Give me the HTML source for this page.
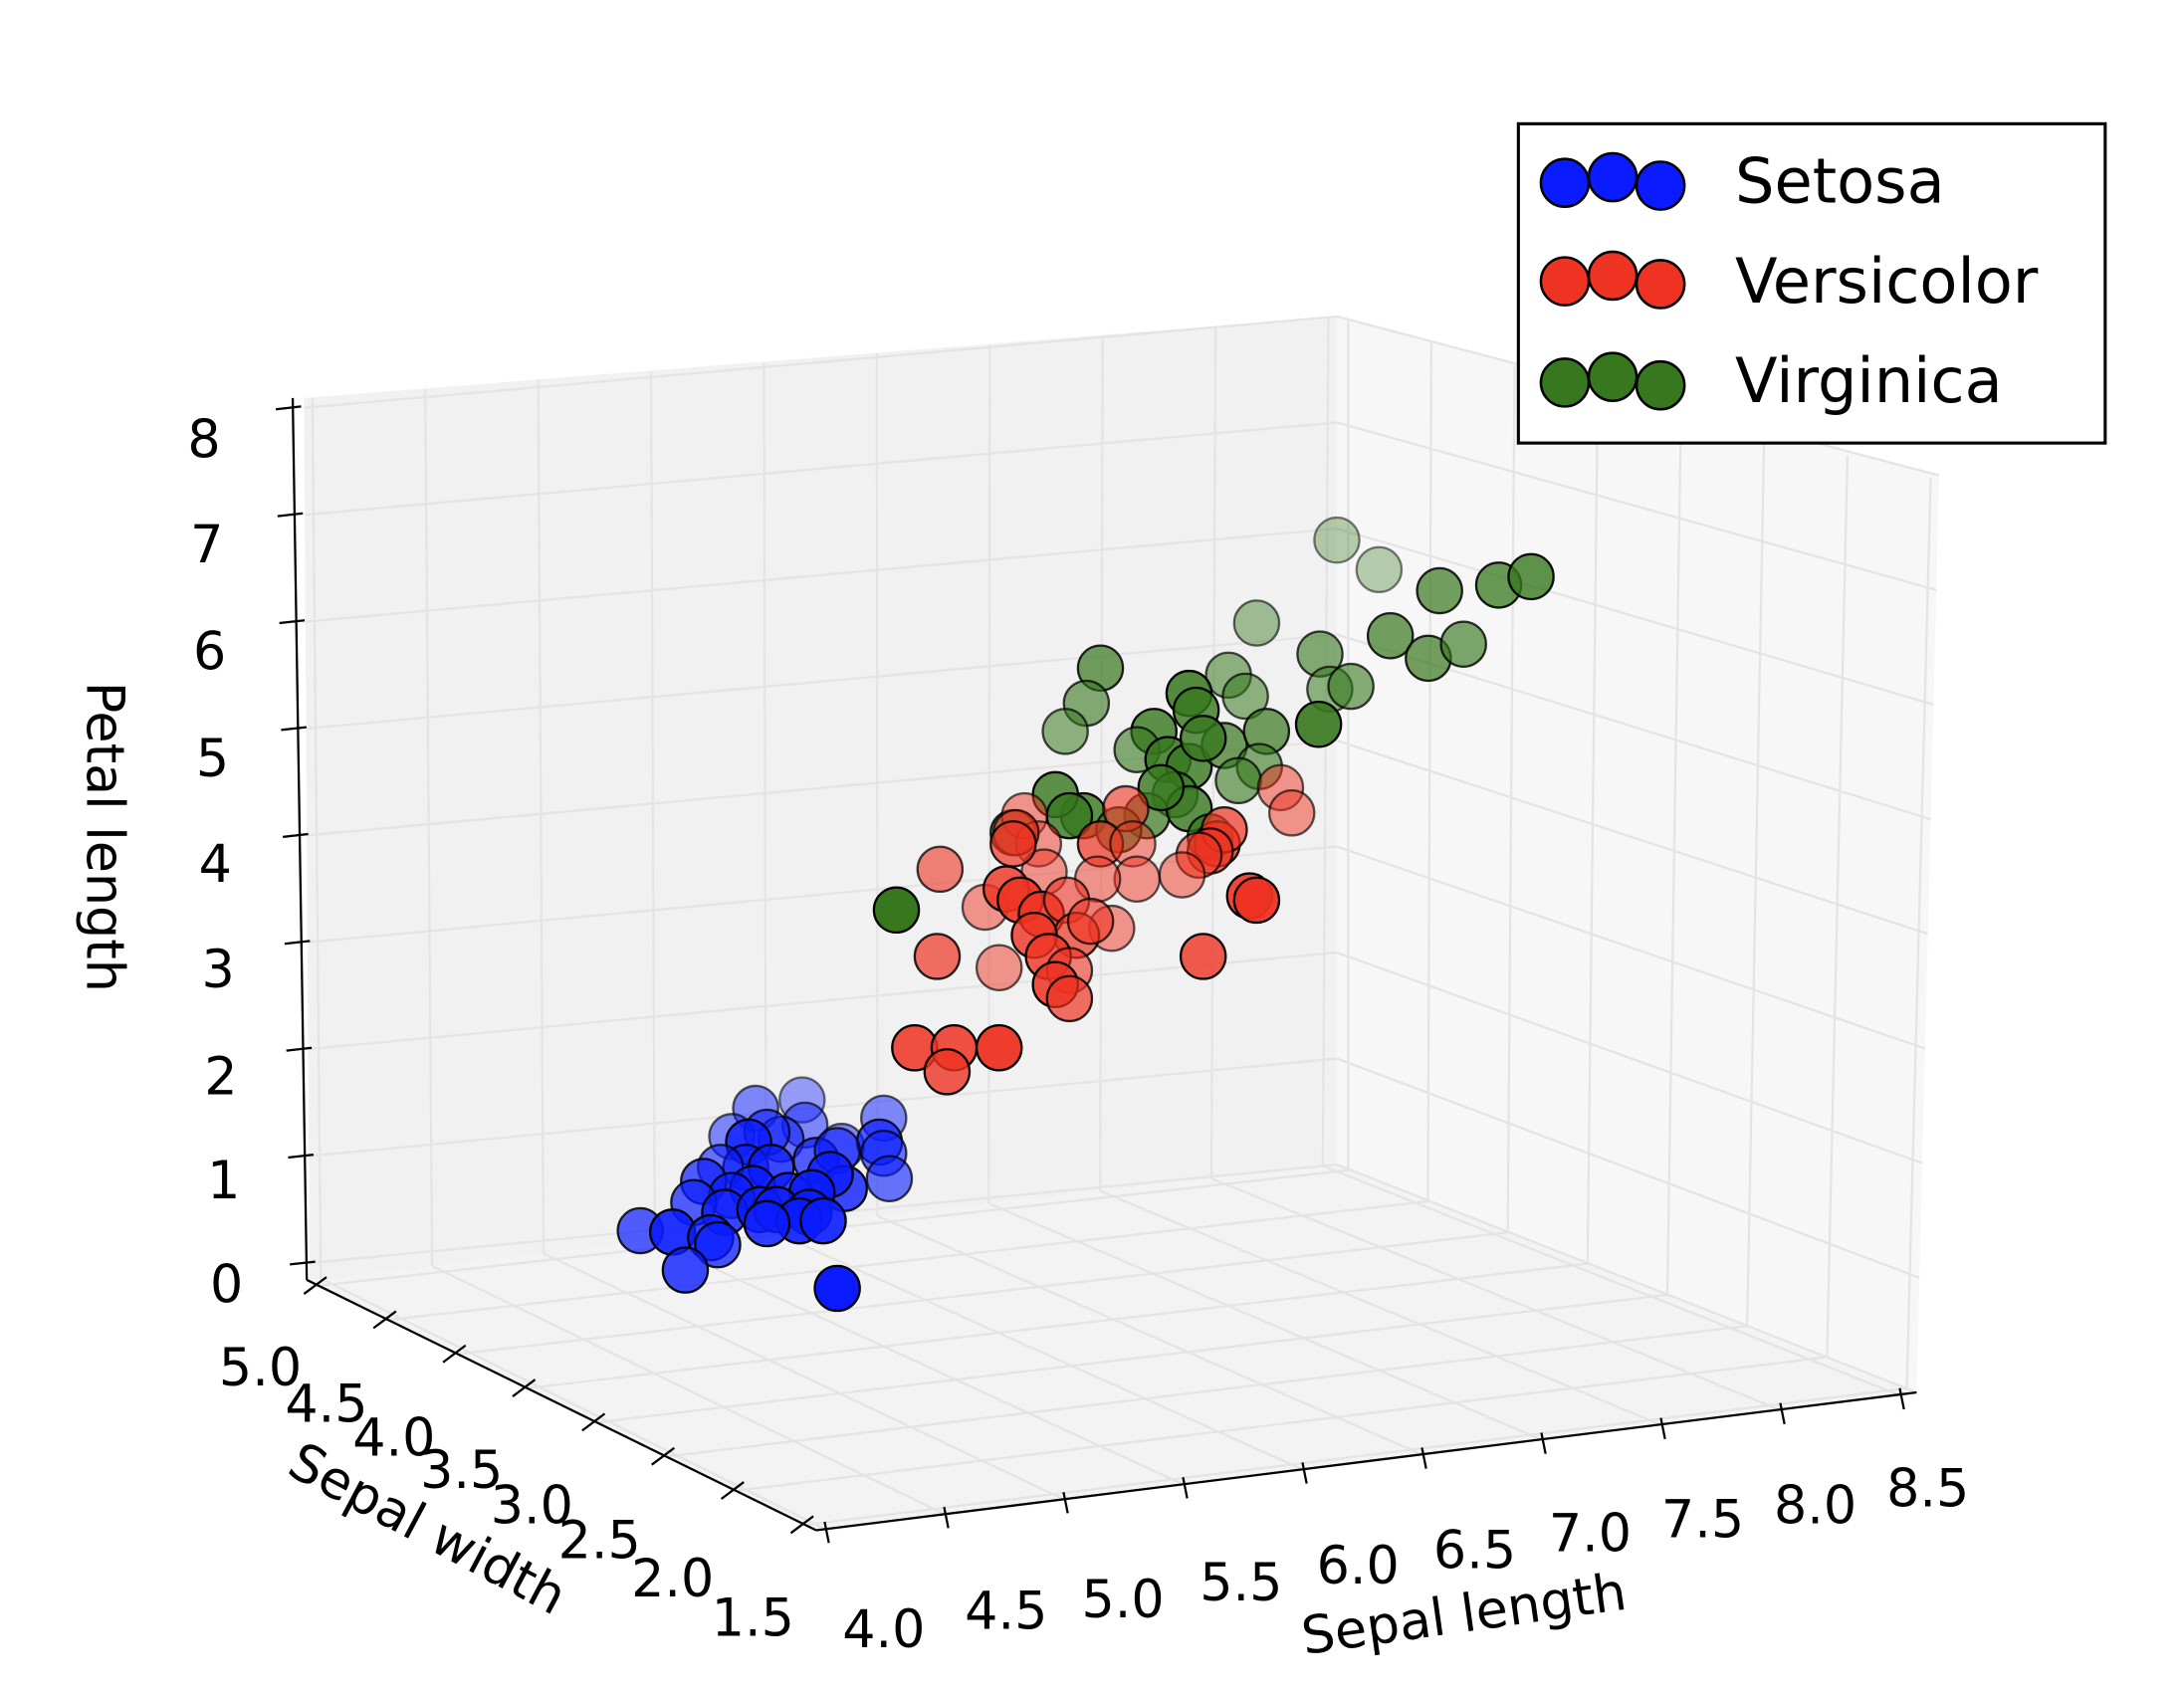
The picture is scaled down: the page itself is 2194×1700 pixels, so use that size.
<!DOCTYPE html>
<html><head><meta charset="utf-8"><style>
html,body{margin:0;padding:0;background:#fff;width:2194px;height:1700px;overflow:hidden}
svg{display:block}
text{font-family:"DejaVu Sans","Liberation Sans",sans-serif;fill:#000}
</style></head><body>
<svg id="s" width="2194" height="1700" viewBox="0 0 1552 1203" preserveAspectRatio="none" xmlns="http://www.w3.org/2000/svg">
<polygon points="216,283 950,225 950,828 220,910" fill="#f1f1f1"/>
<polygon points="950,225 1378,338 1362,990 950,828" fill="#f7f7f7"/>
<polygon points="220,910 950,828 1362,990 580,1088" fill="#f3f3f3"/>
<g id="grid" stroke="#e4e4e4" stroke-width="1.6" fill="none"></g>
<g id="axes" stroke="#000" stroke-width="1.6" fill="none">
<line x1="208" y1="283" x2="218" y2="910"/>
<line x1="218" y1="910" x2="580" y2="1088"/>
<line x1="580" y1="1088" x2="1362" y2="990"/>
</g>
<g id="pts"></g>
<g font-size="37">
<text x="145" y="325" text-anchor="middle">8</text>
<text x="147" y="400" text-anchor="middle">7</text>
<text x="149" y="476" text-anchor="middle">6</text>
<text x="151" y="552" text-anchor="middle">5</text>
<text x="153" y="627" text-anchor="middle">4</text>
<text x="155" y="702" text-anchor="middle">3</text>
<text x="157" y="778" text-anchor="middle">2</text>
<text x="159" y="852" text-anchor="middle">1</text>
<text x="161" y="926" text-anchor="middle">0</text>
<text x="185" y="985" text-anchor="middle">5.0</text>
<text x="232" y="1011" text-anchor="middle">4.5</text>
<text x="280" y="1035" text-anchor="middle">4.0</text>
<text x="328" y="1058" text-anchor="middle">3.5</text>
<text x="378" y="1083" text-anchor="middle">3.0</text>
<text x="426" y="1108" text-anchor="middle">2.5</text>
<text x="478" y="1135" text-anchor="middle">2.0</text>
<text x="535" y="1163" text-anchor="middle">1.5</text>
<text x="628" y="1171" text-anchor="middle">4.0</text>
<text x="715" y="1158" text-anchor="middle">4.5</text>
<text x="798" y="1150" text-anchor="middle">5.0</text>
<text x="882" y="1138" text-anchor="middle">5.5</text>
<text x="965" y="1126" text-anchor="middle">6.0</text>
<text x="1048" y="1115" text-anchor="middle">6.5</text>
<text x="1130" y="1103" text-anchor="middle">7.0</text>
<text x="1210" y="1093" text-anchor="middle">7.5</text>
<text x="1290" y="1083" text-anchor="middle">8.0</text>
<text x="1370" y="1071" text-anchor="middle">8.5</text>
<text transform="translate(1042,1160) rotate(-8)" text-anchor="middle">Sepal length</text>
<text transform="translate(298,1098) rotate(28)" text-anchor="middle">Sepal width</text>
<text transform="translate(62,595) rotate(90)" text-anchor="middle">Petal length</text>
</g>
<rect x="1079" y="88" width="417" height="227" fill="#fff" stroke="#000" stroke-width="2.2"/>
<g stroke="#000" stroke-width="1.8">
<circle cx="1112" cy="130" r="17" fill="#0a1cff"/><circle cx="1146" cy="126" r="17" fill="#0a1cff"/><circle cx="1180" cy="132" r="17" fill="#0a1cff"/>
<circle cx="1112" cy="200" r="17" fill="#ee3322"/><circle cx="1146" cy="196" r="17" fill="#ee3322"/><circle cx="1180" cy="202" r="17" fill="#ee3322"/>
<circle cx="1112" cy="272" r="17" fill="#37781e"/><circle cx="1146" cy="268" r="17" fill="#37781e"/><circle cx="1180" cy="274" r="17" fill="#37781e"/>
</g>
<g font-size="44">
<text x="1233" y="144">Setosa</text>
<text x="1233" y="215">Versicolor</text>
<text x="1233" y="286">Virginica</text>
</g>
</svg>
<script>
(function(){
var NS="http://www.w3.org/2000/svg";
function L(g,x1,y1,x2,y2){var l=document.createElementNS(NS,"line");l.setAttribute("x1",x1);l.setAttribute("y1",y1);l.setAttribute("x2",x2);l.setAttribute("y2",y2);g.appendChild(l);}
var g=document.getElementById("grid"),ax=document.getElementById("axes");
function lerp(a,b,t){return [a[0]+(b[0]-a[0])*t,a[1]+(b[1]-a[1])*t];}
var LB=[220,898],LT=[216,290],MB=[950,828],MT=[950,225],RB=[1362,990],RT=[1378,338];
for(var k=0;k<=8;k++){var t=k/8;
 var a=lerp(LB,LT,t),b=lerp(MB,MT,t),c=lerp(RB,RT,t);
 L(g,a[0],a[1],b[0],b[1]);L(g,b[0],b[1],c[0],c[1]);
 var ta=lerp([218,898],[208,290],t);L(ax,ta[0]-12,ta[1]+1,ta[0]+6,ta[1]-1);}
var FA=[586,1087],FB=[1350,992],BA=[228,909],BB=[940,829];
for(var i=0;i<10;i++){var t=i/9;
 var f=lerp(FA,FB,t),b=lerp(BA,BB,t);
 L(g,f[0],f[1],b[0],b[1]);
 var tp=lerp([222,283],[944,226],t);L(g,b[0],b[1],tp[0],tp[1]);
 L(ax,f[0],f[1]-5,f[0]+3,f[1]+10);}
var SA=[228,914],SB=[574,1084],RA=[958,832],RR=[1355,987];
for(var j=0;j<8;j++){var t=j/7;
 var s=lerp(SA,SB,t),r=lerp(RA,RR,t);
 L(g,s[0],s[1],r[0],r[1]);
 var rt=lerp([958,228],[1372,340],t);L(g,r[0],r[1],rt[0],rt[1]);
 L(ax,s[0]+4,s[1]-6,s[0]-12,s[1]+6);}
var P=document.getElementById("pts");
function C(x,y,col,o){var c=document.createElementNS(NS,"circle");c.setAttribute("cx",x);c.setAttribute("cy",y);c.setAttribute("r",16);
c.setAttribute("fill",col);c.setAttribute("fill-opacity",o);c.setAttribute("stroke","#000");c.setAttribute("stroke-opacity",Math.min(1,o+0.15));c.setAttribute("stroke-width",1.6);P.appendChild(c);}
var G="#37781e",R="#ee3322",B="#0a1cff";
[[950,384,.35],[980,405,.35],[893,443,.45],[1023,420,.7],[1065,416,.75],[1088,410,.8],[988,452,.7],[1015,468,.7],[1040,458,.65],[938,465,.6],[945,490,.55],[960,488,.6],[937,515,.9],[873,480,.55],[885,495,.55],[782,475,.7],[772,500,.6],[757,520,.55],[845,493,.85],[850,505,.8],[820,520,.8],[808,533,.6],[830,540,.85],[845,545,.8],[870,530,.7],[900,520,.7],[895,545,.6],[880,555,.6],[835,565,.7],[815,580,.7],[845,575,.8],[770,580,.8],[750,565,.8],[795,590,.7],[760,580,.8],[860,595,.7],[825,560,.8],[855,525,.8],[720,592,.7],[637,647,1]].forEach(function(p){C(p[0],p[1],G,p[2]);});
[[910,560,.5],[918,578,.5],[800,575,.6],[728,580,.5],[782,600,.7],[738,600,.5],[805,600,.5],[865,600,.8],[870,590,.7],[860,605,.7],[852,608,.6],[722,592,.6],[742,620,.5],[668,618,.6],[808,625,.5],[840,622,.5],[780,625,.5],[720,600,.7],[700,645,.5],[715,632,.8],[725,640,.9],[740,650,.85],[758,640,.6],[790,660,.5],[765,665,.7],[775,655,.6],[735,665,.8],[745,680,.8],[888,637,.9],[893,640,.95],[666,680,.7],[710,688,.5],[855,680,.8],[760,690,.6],[750,700,.85],[760,710,.7],[650,745,.85],[678,745,.85],[673,762,.8],[710,745,.95]].forEach(function(p){C(p[0],p[1],R,p[2]);});
[[570,782,.4],[537,788,.5],[628,795,.5],[520,808,.5],[572,800,.5],[555,810,.6],[545,805,.6],[532,812,.8],[598,815,.5],[625,812,.7],[580,825,.7],[595,818,.6],[530,830,.7],[548,830,.8],[512,830,.6],[628,820,.6],[632,838,.6],[600,845,.8],[590,835,.8],[500,840,.7],[535,845,.8],[560,850,.8],[577,848,.9],[520,850,.7],[493,855,.7],[515,862,.8],[540,860,.8],[552,860,.85],[575,862,.9],[568,868,.9],[585,868,.9],[545,870,.85],[455,875,.7],[478,876,.9],[505,880,.8],[510,885,.75],[487,903,.8],[595,916,1]].forEach(function(p){C(p[0],p[1],B,p[2]);});
})();
</script>
</body></html>
